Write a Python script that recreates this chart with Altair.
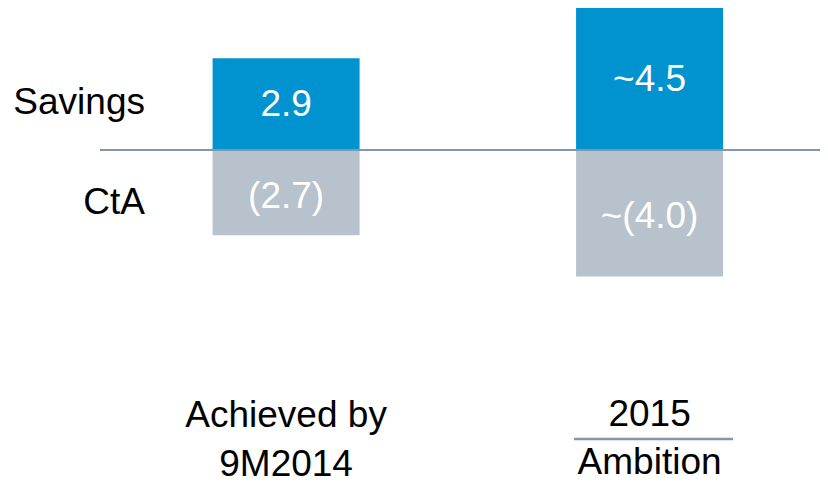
import altair as alt
import pandas as pd

categories = ["Achieved by 9M2014", "2015 Ambition"]
savings = [2.9, 4.5]
cta = [-2.7, -4.0]
savings_labels = ["2.9", "~4.5"]
cta_labels = ["(2.7)", "~(4.0)"]
row_labels = ["Savings", "CtA"]
bottom_line1 = ["Achieved by", "2015"]
bottom_line2 = ["9M2014", "Ambition"]

BLUE = "#0093D0"
GREY = "#B7C2CD"
LINE = "#8097AD"
FONT = "Liberation Sans"
FS = 37

rows = []
for i, c in enumerate(categories):
    rows.append({"idx": i, "cat": c, "kind": "Savings", "value": savings[i], "label": savings_labels[i]})
    rows.append({"idx": i, "cat": c, "kind": "CtA", "value": cta[i], "label": cta_labels[i]})
df = pd.DataFrame(rows)
df["mid"] = df["value"] / 2

bottom = pd.DataFrame({"idx": list(range(len(categories))), "l1": bottom_line1, "l2": bottom_line2})

W, H = 812, 475
px_per_unit_x = 368.0
x0 = 276.5
xdom = [-x0 / px_per_unit_x, (W - x0) / px_per_unit_x]
ppu = 31.6
zero_y = 142.0
ydom = [(zero_y - H) / ppu, zero_y / ppu]

xs = alt.Scale(domain=xdom, nice=False, zero=False)
ys = alt.Scale(domain=ydom, nice=False, zero=False)

base = alt.Chart(df)

bars = base.mark_bar(size=147).encode(
    x=alt.X("idx:Q", scale=xs, axis=None),
    y=alt.Y("value:Q", scale=ys, axis=None),
    y2=alt.datum(0),
    color=alt.Color("kind:N", scale=alt.Scale(domain=["Savings", "CtA"], range=[BLUE, GREY]), legend=None),
)

sav_text = base.transform_filter(alt.datum.kind == "Savings").mark_text(
    font=FONT, fontSize=FS, color="white", baseline="middle", dy=1
).encode(x=alt.X("idx:Q", scale=xs), y=alt.Y("mid:Q", scale=ys), text="label:N")

cta_text = base.transform_filter(alt.datum.kind == "CtA").mark_text(
    font=FONT, fontSize=FS, color="white", baseline="middle", dy=4
).encode(x=alt.X("idx:Q", scale=xs), y=alt.Y("mid:Q", scale=ys), text="label:N")

zero_rule = base.mark_rule(color=LINE, strokeWidth=2).encode(
    y=alt.datum(0), x=alt.value(92), x2=alt.value(W)
)

row_df = pd.DataFrame({"t": row_labels, "ypos": [95, 195]})
row_text = alt.Chart(row_df).mark_text(
    font=FONT, fontSize=FS, color="black", align="right", baseline="middle"
).encode(x=alt.value(137), y=alt.Y("ypos:Q", scale=None), text="t:N")

b = alt.Chart(bottom)
line1a = b.transform_filter(alt.datum.idx == 0).mark_text(
    font=FONT, fontSize=FS, color="black", baseline="middle"
).encode(x=alt.X("idx:Q", scale=xs), y=alt.value(408), text="l1:N")
line1b = b.transform_filter(alt.datum.idx == 1).mark_text(
    font=FONT, fontSize=FS, color="black", baseline="middle"
).encode(x=alt.X("idx:Q", scale=xs), y=alt.value(407), text="l1:N")
line2a = b.transform_filter(alt.datum.idx == 0).mark_text(
    font=FONT, fontSize=FS, color="black", baseline="middle"
).encode(x=alt.X("idx:Q", scale=xs), y=alt.value(457), text="l2:N")
line2b = b.transform_filter(alt.datum.idx == 1).mark_text(
    font=FONT, fontSize=FS, color="black", baseline="alphabetic"
).encode(x=alt.X("idx:Q", scale=xs), y=alt.value(466), text="l2:N")

underline = b.transform_filter(alt.datum.idx == 1).mark_rule(color=LINE, strokeWidth=2.5).encode(
    x=alt.value(566), x2=alt.value(725), y=alt.value(431)
)

chart = alt.layer(bars, zero_rule, sav_text, cta_text, row_text, line1a, line1b, line2a, line2b, underline).properties(
    width=W, height=H, padding=0, autosize=alt.AutoSizeParams(type="none")
).configure_view(stroke=None)

chart.save("out.html", embed_options={"renderer": "svg", "actions": False})
